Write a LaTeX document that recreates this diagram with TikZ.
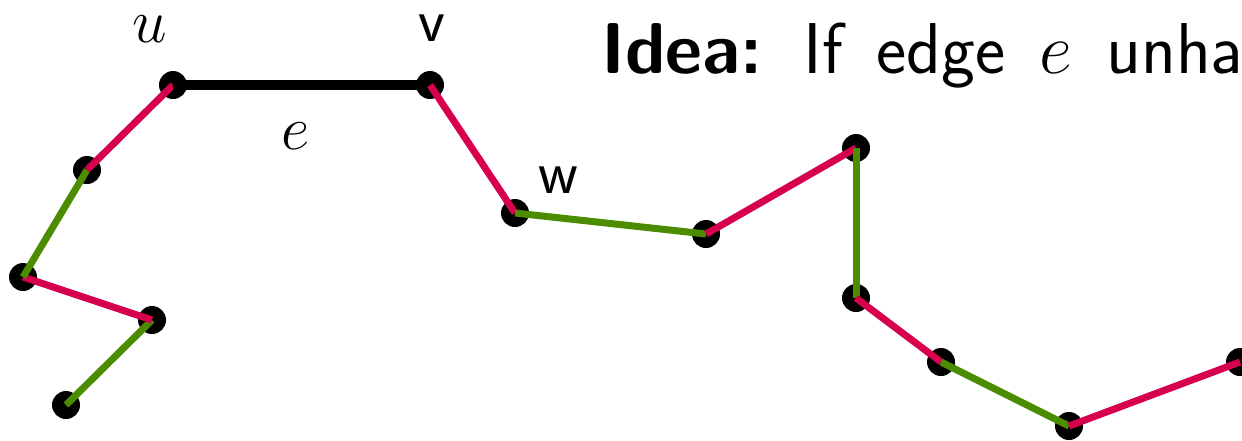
\RequirePackage{fix-cm}
\documentclass[tikz,border=0pt]{standalone}
\definecolor{redE}{HTML}{D6004F}
\definecolor{greenE}{HTML}{4C8C00}
\begin{document}
\begin{tikzpicture}[x=1pt,y=-1pt,
  vtx/.style={circle,fill=black,inner sep=0pt,minimum size=28pt},
  redge/.style={draw=redE,line width=7pt},
  gedge/.style={draw=greenE,line width=7pt},
  bedge/.style={draw=black,line width=10pt},
  lbl/.style={inner sep=0pt}]
\useasboundingbox (0,0) rectangle (1242,440);
\node[vtx] (u) at (173,85) {};
\node[vtx] (v) at (430,85) {};
\node[vtx] (w) at (515,213) {};
\node[vtx] (a1) at (87,170) {};
\node[vtx] (a2) at (23,277) {};
\node[vtx] (a3) at (152,320) {};
\node[vtx] (a4) at (66,405) {};
\node[vtx] (b1) at (706,234) {};
\node[vtx] (b2) at (856,148) {};
\node[vtx] (b3) at (856,298) {};
\node[vtx] (b4) at (941,362) {};
\node[vtx] (b5) at (1069,426) {};
\node[vtx] (b6) at (1240,362) {};
\draw[gedge] (a4.center) -- (a3.center);
\draw[redge] (a3.center) -- (a2.center);
\draw[gedge] (a2.center) -- (a1.center);
\draw[redge] (a1.center) -- (u.center);
\draw[bedge] (u.center) -- (v.center);
\draw[redge] (v.center) -- (w.center);
\draw[gedge] (w.center) -- (b1.center);
\draw[redge] (b1.center) -- (b2.center);
\draw[gedge] (b2.center) -- (b3.center);
\draw[redge] (b3.center) -- (b4.center);
\draw[gedge] (b4.center) -- (b5.center);
\draw[redge] (b5.center) -- (b6.center);
\node[lbl,font=\fontsize{62}{70}\selectfont] (lu) at (150,29) {$u$};
\node[lbl,font=\fontsize{62}{70}\selectfont\sffamily] (lv) at (432,28) {v};
\node[lbl,font=\fontsize{62}{70}\selectfont\sffamily] (lw) at (558,180) {w};
\node[lbl,font=\fontsize{62}{70}\selectfont] (le) at (296,136) {$e$};
\node[lbl,anchor=base west,font=\fontsize{72}{80}\selectfont\sffamily] (title) at (601,73) {\spaceskip=34pt\relax\textbf{Idea:} If edge $e$ unha};
\end{tikzpicture}
\end{document}
